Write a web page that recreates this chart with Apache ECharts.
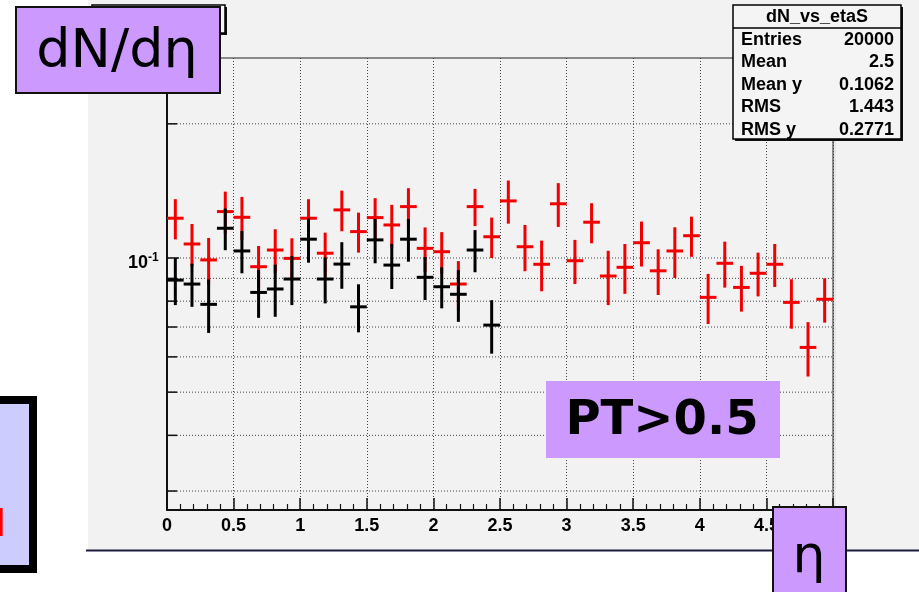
<!DOCTYPE html>
<html><head><meta charset="utf-8">
<script src="https://cdn.jsdelivr.net/npm/echarts@6/dist/echarts.min.js"></script>
<style>html,body{margin:0;padding:0;background:#fff;overflow:hidden}#c{width:919px;height:592px}</style>
</head><body><div id="c"></div>
<script>
// ---- data ----
const etaMin = 0, etaMax = 5, etaBinWidth = 0.125;
const yMin = 0.0272, yMax = 0.281;
const redValues = [0.1228,0.1075,0.0990,0.1271,0.1234,0.0956,0.1042,0.0998,0.1228,0.1025,
                   0.1282,0.1146,0.1232,0.1186,0.1304,0.1051,0.1033,0.0874,0.1304,0.1116,
                   0.1343,0.1060,0.0968,0.1323,0.0986,0.1203,0.0911,0.0953,0.1082,0.0936,
                   0.1037,0.1122,0.0816,0.0973,0.0859,0.0924,0.0968,0.0795,0.0630,0.0808];
const redErrors = [0.0127,0.0117,0.0119,0.0138,0.0137,0.0108,0.0118,0.0109,0.0127,0.0115,
                   0.0134,0.0118,0.0130,0.0130,0.0130,0.0120,0.0110,0.0110,0.0125,0.0116,
                   0.0149,0.0126,0.0126,0.0149,0.0112,0.0124,0.0127,0.0122,0.0125,0.0110,
                   0.0135,0.0116,0.0105,0.0115,0.0101,0.0104,0.0107,0.0101,0.0088,0.0092];
const blackValues = [0.0892,0.0874,0.0787,0.1166,0.1037,0.0837,0.0852,0.0897,0.1102,0.0897,
                     0.0969,0.0777,0.1098,0.0964,0.1102,0.0905,0.0862,0.0829,0.1042,0.0707];
const blackErrors = [0.0108,0.0097,0.0108,0.0125,0.0113,0.0103,0.0114,0.0113,0.0126,0.0106,
                     0.0116,0.0096,0.0125,0.0112,0.0121,0.0100,0.0091,0.0110,0.0113,0.0097];
const xTickLabels = ['0','0.5','1','1.5','2','2.5','3','3.5','4','4.5',''];
const yGridValues = [0.03,0.04,0.05,0.06,0.07,0.08,0.09,0.1,0.2];
const yLabelValue = 0.1, yLabelBase = '10', yLabelExp = '-1';
const statsTitle = 'dN_vs_etaS';
const statsNames = ['Entries','Mean','Mean y','RMS','RMS y'];
const statsValues = ['20000','2.5','0.1062','1.443','0.2771'];
const titleText = 'dN/d\u03b7', cutText = 'PT>0.5', axisText = '\u03b7', sideText = 'u';

// ---- build ----
function toPoints(vals, errs){
  return vals.map((v,i)=>[etaMin + etaBinWidth*(i+0.5), v, errs[i]]);
}
function crossRender(color){
  return function(params, api){
    const x = api.value(0), y = api.value(1), e = api.value(2);
    const p = api.coord([x, y]);
    const l = api.coord([x - etaBinWidth/2, y]);
    const r = api.coord([x + etaBinWidth/2, y]);
    const t = api.coord([x, y + e]);
    const b = api.coord([x, y - e]);
    const style = {stroke: color, lineWidth: 3, fill: null};
    return {type:'group', children:[
      {type:'line', shape:{x1:p[0], y1:t[1], x2:p[0], y2:b[1]}, style},
      {type:'line', shape:{x1:l[0], y1:p[1], x2:r[0], y2:p[1]}, style}
    ]};
  };
}
function gridRender(params, api){
  const v = api.value(1);
  const a = api.coord([etaMin, v]);
  const b = api.coord([etaMax, v]);
  const ch = [
    {type:'line', shape:{x1:a[0]+1, y1:a[1], x2:b[0], y2:a[1]}, style:{stroke:'#444', lineWidth:1, lineDash:[1,2]}},
    {type:'line', shape:{x1:a[0], y1:a[1], x2:a[0]+(v===yLabelValue?12:10), y2:a[1]}, style:{stroke:'#111', lineWidth:1.5}}
  ];
  if (v === yLabelValue) {
    ch.push({type:'text', x:a[0]-19, y:a[1]+5.5, style:{text:yLabelBase, align:'right', verticalAlign:'middle',
      font:'bold 18px "Liberation Sans", Arial, sans-serif', fill:'#000'}});
    ch.push({type:'text', x:a[0]-19, y:a[1]-0.5, style:{text:yLabelExp, align:'left', verticalAlign:'middle',
      font:'bold 12px "Liberation Sans", Arial, sans-serif', fill:'#000'}});
  }
  return {type:'group', children:ch};
}

const statsEls = [
  {type:'rect', z:50, shape:{x:735, y:7, width:168, height:134}, style:{fill:'#111'}},
  {type:'rect', z:51, shape:{x:733, y:5, width:168, height:134}, style:{fill:'#f4f4f4', stroke:'#000', lineWidth:1.5}},
  {type:'line', z:52, shape:{x1:733, y1:28, x2:901, y2:28}, style:{stroke:'#000', lineWidth:1.5}},
  {type:'text', z:52, x:817, y:17, style:{text:statsTitle, align:'center', verticalAlign:'middle',
     font:'bold 18px "Liberation Sans", Arial, sans-serif', fill:'#000'}}
];
statsNames.forEach((n,i)=>{
  const y = 40 + 22.5*i;
  statsEls.push({type:'text', z:52, x:741, y:y, style:{text:n, align:'left', verticalAlign:'middle',
     font:'bold 18px "Liberation Sans", Arial, sans-serif', fill:'#000'}});
  statsEls.push({type:'text', z:52, x:894, y:y, style:{text:statsValues[i], align:'right', verticalAlign:'middle',
     font:'bold 18px "Liberation Sans", Arial, sans-serif', fill:'#000'}});
});

const graphics = [
  {type:'rect', z:-20, shape:{x:88, y:0, width:831, height:550}, style:{fill:'#f2f2f2'}},
  {type:'line', z:-19, shape:{x1:86, y1:550.5, x2:919, y2:550.5}, style:{stroke:'#1c1c3c', lineWidth:2}},
  {type:'line', z:-19, shape:{x1:835, y1:58, x2:835, y2:550}, style:{stroke:'#dddddd', lineWidth:1}},
  // hidden title box
  {type:'rect', z:40, shape:{x:94, y:7, width:133, height:28}, style:{fill:'#111'}},
  {type:'rect', z:41, shape:{x:92, y:5, width:133, height:28}, style:{fill:'#f6f6f6', stroke:'#000', lineWidth:1.5}},
  ...statsEls,
  // purple labels
  {type:'rect', z:60, shape:{x:16, y:7, width:204, height:86}, style:{fill:'#cc99ff', stroke:'#111', lineWidth:2}},
  {type:'text', z:61, x:117, y:53, style:{text:titleText, align:'center', verticalAlign:'middle',
     font:'54px "DejaVu Sans", sans-serif', fill:'#000'}},
  {type:'rect', z:60, shape:{x:546, y:381, width:234, height:77}, style:{fill:'#cc99ff'}},
  {type:'text', z:61, x:662, y:422, style:{text:cutText, align:'center', verticalAlign:'middle',
     font:'bold 48px "DejaVu Sans", sans-serif', fill:'#000'}},
  {type:'rect', z:60, shape:{x:773, y:507, width:73, height:100}, style:{fill:'#cc99ff', stroke:'#111', lineWidth:2}},
  {type:'text', z:61, x:809, y:558, style:{text:axisText, align:'center', verticalAlign:'middle',
     font:'52px "DejaVu Sans", sans-serif', fill:'#000'}},
  // left partial box
  {type:'rect', z:60, shape:{x:-20, y:400, width:53, height:169}, style:{fill:'#ccccff', stroke:'#000', lineWidth:8}},
  {type:'text', z:61, x:7, y:548, style:{text:sideText, align:'right', verticalAlign:'bottom',
     font:'bold 52px "DejaVu Sans", sans-serif', fill:'#ff0000'}}
];

const chart = echarts.init(document.getElementById('c'), null, {renderer:'canvas'});
chart.setOption({
  animation:false,
  backgroundColor:'#ffffff',
  grid:{left:167, right:86, top:58, bottom:82, show:true, borderColor:'#222', borderWidth:1, backgroundColor:'transparent'},
  xAxis:{type:'value', min:etaMin, max:etaMax, interval:0.5,
    axisLine:{show:true, onZero:false, lineStyle:{color:'#111', width:2}},
    axisTick:{show:true, inside:true, length:12, lineStyle:{color:'#111', width:1.5}},
    minorTick:{show:true, splitNumber:5, length:6, lineStyle:{color:'#111', width:1.2}},
    splitLine:{show:true, lineStyle:{color:'#444', width:1, type:[1,2]}},
    axisLabel:{show:true, margin:7, color:'#000', fontFamily:'"Liberation Sans", Arial, sans-serif', fontWeight:'bold', fontSize:18,
      showMaxLabel:false, formatter:(v)=>xTickLabels[Math.round((v-etaMin)/0.5)] || ''}
  },
  yAxis:{type:'log', min:yMin, max:yMax,
    axisLine:{show:true, lineStyle:{color:'#111', width:2}},
    axisTick:{show:false}, axisLabel:{show:false}, splitLine:{show:false}, minorTick:{show:false}
  },
  graphic:{elements:graphics},
  series:[
    {type:'custom', name:'grid', data:yGridValues.map(v=>[etaMin, v]), encode:{x:0,y:1}, renderItem:gridRender, z:1, silent:true},
    {type:'custom', name:'red', data:toPoints(redValues, redErrors), encode:{x:0,y:1}, renderItem:crossRender('#f00000'), z:3},
    {type:'custom', name:'black', data:toPoints(blackValues, blackErrors), encode:{x:0,y:1}, renderItem:crossRender('#000000'), z:4}
  ]
});
</script></body></html>
